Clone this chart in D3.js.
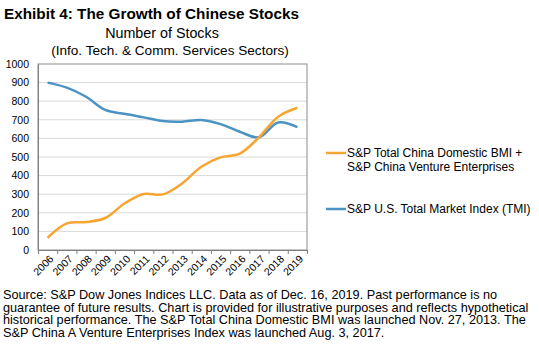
<!DOCTYPE html>
<html>
<head>
<meta charset="utf-8">
<script src="https://cdn.jsdelivr.net/npm/d3@7"></script>
<style>
  body { margin: 0; background: #fff; }
  svg { font-family: Arial, "Liberation Sans", sans-serif; }
</style>
</head>
<body>
<div id="chart"></div>
<script>
const years = ["2006", "2007", "2008", "2009", "2010", "2011", "2012", "2013", "2014", "2015", "2016", "2017", "2018", "2019"];
const chinaCounts = [66, 143, 150, 172, 250, 301, 299, 358, 448, 498, 518, 606, 717, 765];
const usCounts = [900, 873, 824, 753, 732, 713, 693, 690, 699, 677, 636, 606, 686, 661];
const yTicks = [0, 100, 200, 300, 400, 500, 600, 700, 800, 900, 1000];
const seriesNames = [
  ["S&P Total China Domestic BMI +", "S&P China Venture Enterprises"],
  ["S&P U.S. Total Market Index (TMI)"]
];
const footnote = [
  "Source: S&P Dow Jones Indices LLC. Data as of Dec. 16, 2019. Past performance is no",
  "guarantee of future results. Chart is provided for illustrative purposes and reflects hypothetical",
  "historical performance. The S&P Total China Domestic BMI was launched Nov. 27, 2013. The",
  "S&P China A Venture Enterprises Index was launched Aug. 3, 2017."
];

const W = 539, H = 352;
const plot = { left: 38, right: 307, top: 64, bottom: 250 };
const orange = "#f7a531", blue = "#4b93c3";

const svg = d3.select("#chart").append("svg")
  .attr("width", W)
  .attr("height", H);

// Titles
svg.append("text")
  .attr("x", 4).attr("y", 19)
  .style("font-size", "15.3px").style("font-weight", "bold")
  .text("Exhibit 4: The Growth of Chinese Stocks");

svg.append("text")
  .attr("x", 162).attr("y", 38)
  .attr("text-anchor", "middle")
  .style("font-size", "14.3px")
  .text("Number of Stocks");

svg.append("text")
  .attr("x", 170).attr("y", 55)
  .attr("text-anchor", "middle")
  .style("font-size", "13.6px")
  .text("(Info. Tech. & Comm. Services Sectors)");

const x = d3.scaleBand()
  .domain(years)
  .range([plot.left, plot.right])
  .padding(0);

const y = d3.scaleLinear()
  .domain([0, 1000])
  .range([plot.bottom, plot.top]);

// Gridlines
svg.append("g")
  .selectAll("line")
  .data(yTicks.filter(d => d > 0 && d < 1000))
  .join("line")
  .attr("x1", plot.left).attr("x2", plot.right)
  .attr("y1", d => y(d)).attr("y2", d => y(d))
  .attr("stroke", "#d9d9d9").attr("stroke-width", 1);

// Plot frame
svg.append("rect")
  .attr("x", plot.left).attr("y", plot.top)
  .attr("width", plot.right - plot.left).attr("height", plot.bottom - plot.top)
  .attr("fill", "none").attr("stroke", "#8c8c8c").attr("stroke-width", 1);

// Y axis
const yAxis = svg.append("g")
  .attr("transform", `translate(${plot.left},0)`)
  .call(d3.axisLeft(y).tickValues(yTicks).tickFormat(d3.format("d")).tickSize(0).tickPadding(9));
yAxis.select(".domain").attr("stroke", "#7f7f7f");
yAxis.selectAll("text").style("font-size", "10.5px").attr("fill", "#000")
  .style("font-family", "Arial, 'Liberation Sans', sans-serif");

// X axis: tick marks between categories
const xEdges = d3.scaleLinear().domain([0, years.length]).range([plot.left, plot.right]);
const xAxis = svg.append("g")
  .attr("transform", `translate(0,${plot.bottom})`)
  .call(d3.axisBottom(xEdges).tickValues(d3.range(0, years.length + 1)).tickFormat("").tickSize(4));
xAxis.select(".domain").attr("stroke", "#7f7f7f");
xAxis.selectAll("line").attr("stroke", "#7f7f7f");

svg.append("g")
  .selectAll("text")
  .data(years)
  .join("text")
  .attr("transform", d => `translate(${x(d) + x.bandwidth() / 2 + 4},${plot.bottom + 7}) rotate(-45)`)
  .attr("text-anchor", "end")
  .attr("dy", "0.35em")
  .style("font-size", "10.5px")
  .text(d => d);

// Lines
const line = d3.line()
  .x((d, i) => x(years[i]) + x.bandwidth() / 2)
  .y(d => y(d))
  .curve(d3.curveCatmullRom.alpha(0.5));

svg.append("path")
  .datum(usCounts)
  .attr("fill", "none").attr("stroke", blue).attr("stroke-width", 2.5)
  .attr("d", line);

svg.append("path")
  .datum(chinaCounts)
  .attr("fill", "none").attr("stroke", orange).attr("stroke-width", 2.5)
  .attr("d", line);

// Legend
const legend = svg.append("g");
[{ c: orange, names: seriesNames[0], y: 153 }, { c: blue, names: seriesNames[1], y: 209 }].forEach(s => {
  legend.append("line")
    .attr("x1", 326).attr("x2", 346)
    .attr("y1", s.y).attr("y2", s.y)
    .attr("stroke", s.c).attr("stroke-width", 2.5);
  s.names.forEach((n, i) => {
    legend.append("text")
      .attr("x", 347).attr("y", s.y + 4 + i * 13.7)
      .style("font-size", "12px")
      .text(n);
  });
});

// Footnote
svg.append("g")
  .selectAll("text")
  .data(footnote)
  .join("text")
  .attr("x", 3)
  .attr("y", (d, i) => 299 + i * 12.5)
  .style("font-size", "12.7px")
  .text(d => d);
</script>
</body>
</html>
